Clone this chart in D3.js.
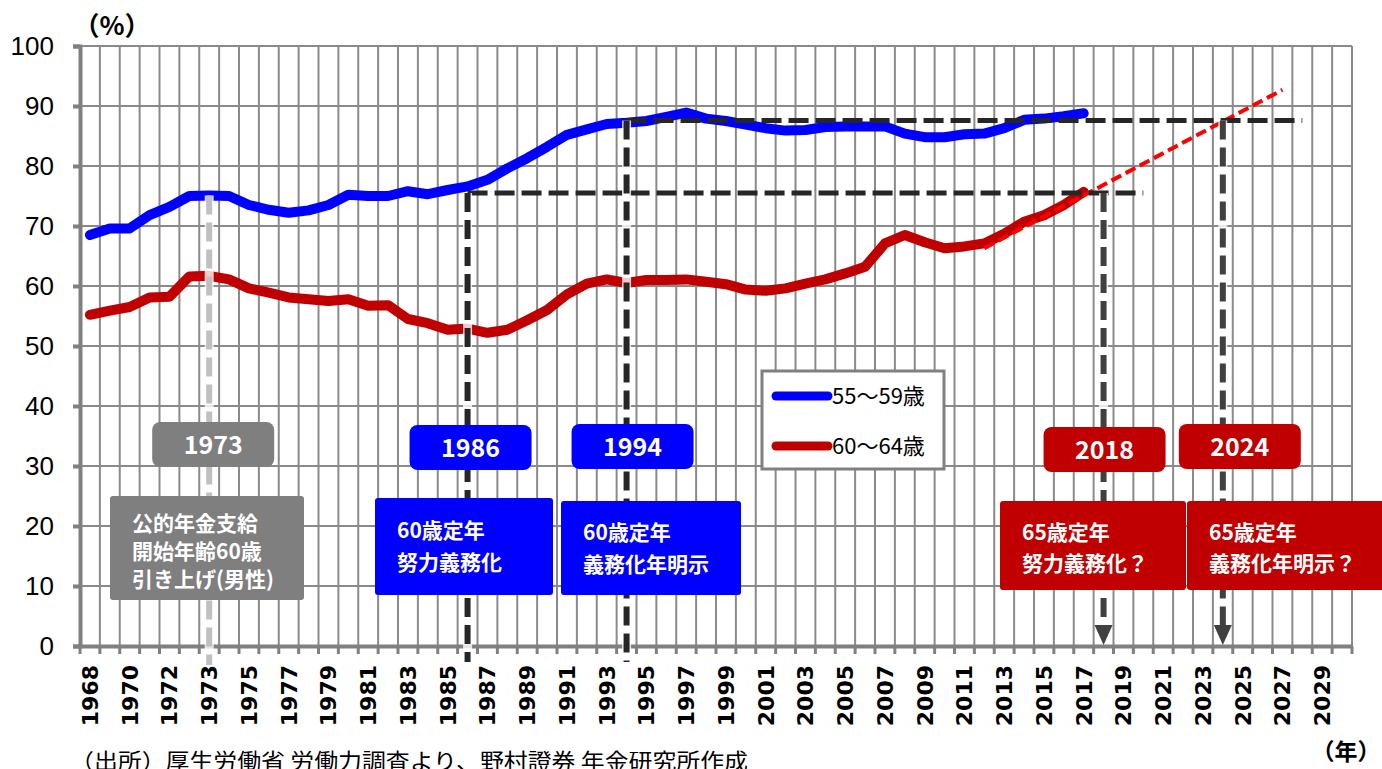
<!DOCTYPE html>
<html>
<head>
<meta charset="utf-8">
<script src="https://cdn.jsdelivr.net/npm/d3@7"></script>
<style>
  body { margin: 0; background: #fff; }
  svg { display: block; }
</style>
</head>
<body>
<div id="chart"></div>
<script>
// categories (the survey lists 1973 twice: before/after Okinawa)
const categories = ['1968', '1969', '1970', '1971', '1972', '1973', '1973b']
  .concat(d3.range(1974, 2031).map(String));
const yTicks = [0, 10, 20, 30, 40, 50, 60, 70, 80, 90, 100];

// labour participation rate, men (%)
const rate55 = [68.5, 69.6, 69.6, 71.8, 73.2, 75.0, 75.1, 75.0, 73.5, 72.7,
  72.2, 72.6, 73.5, 75.2, 75.0, 75.0, 75.8, 75.3, 76.0, 76.6,
  77.7, 79.6, 81.3, 83.2, 85.2, 86.1, 87.0, 87.2, 87.5, 88.2,
  88.9, 87.9, 87.5, 86.9, 86.3, 85.9, 86.0, 86.5, 86.6, 86.6,
  86.6, 85.4, 84.8, 84.8, 85.3, 85.4, 86.3, 87.7, 87.9, 88.3, 88.8];
const rate60 = [55.2, 55.9, 56.5, 58.1, 58.2, 61.6, 61.7, 61.1, 59.6, 58.9,
  58.1, 57.8, 57.5, 57.8, 56.7, 56.8, 54.5, 53.8, 52.7, 52.9,
  52.2, 52.7, 54.3, 56.0, 58.6, 60.4, 61.1, 60.5, 61.0, 61.0,
  61.1, 60.7, 60.3, 59.4, 59.2, 59.6, 60.4, 61.1, 62.1, 63.2,
  67.1, 68.5, 67.3, 66.3, 66.6, 67.1, 68.7, 70.7, 71.8, 73.5, 75.7];
const seriesNames = ['55～59歳', '60～64歳'];

// red dashed extrapolation
const trendYears = ['2012', '2027'];
const trendValues = [66.3, 92.7];

// events
const eventYears = ['1973b', '1986', '1994', '2018', '2024'];
const eventLabels = ['1973', '1986', '1994', '2018', '2024'];
const eventNotes = [
  ['公的年金支給', '開始年齢60歳', '引き上げ(男性)'],
  ['60歳定年', '努力義務化'],
  ['60歳定年', '義務化年明示'],
  ['65歳定年', '努力義務化？'],
  ['65歳定年', '義務化年明示？']
];
const guideLevels = [75.5, 87.6]; // 2018 level, 2024 level

/** LAYOUT */
const width = 1382, height = 769;
const margin = {top: 46, right: 30, bottom: 123, left: 80};
const colors = {c55: '#0000ff', c60: '#c00000', grid: '#8a8a8a', axis: '#808080'};

const svg = d3.select('#chart').append('svg')
  .attr('width', width).attr('height', height)
  .style('font-family', 'Liberation Sans, Arial, sans-serif');

const x = d3.scaleBand()
  .domain(categories)
  .range([margin.left, 1352])
  .padding(0);
const y = d3.scaleLinear()
  .domain([0, 100])
  .range([height - margin.bottom, margin.top]);
const bw = x.bandwidth();
const cx = d => x(d) + bw / 2;

// gridlines
const boundaries = categories.map(d => x(d)).concat([x.range()[1]]);
svg.append('g').selectAll('line')
  .data(boundaries.slice(1))
  .join('line')
  .attr('x1', d => d).attr('x2', d => d)
  .attr('y1', y(100)).attr('y2', y(0))
  .attr('stroke', colors.grid).attr('stroke-width', 2);
svg.append('g').selectAll('line')
  .data(yTicks.slice(1))
  .join('line')
  .attr('x1', x.range()[0]).attr('x2', x.range()[1])
  .attr('y1', d => y(d)).attr('y2', d => y(d))
  .attr('stroke', colors.grid).attr('stroke-width', 2);

// y axis
const yAxis = svg.append('g')
  .attr('transform', `translate(${margin.left},0)`)
  .call(d3.axisLeft(y).tickValues(yTicks).tickSize(7).tickPadding(19));
yAxis.select('.domain').attr('stroke', colors.axis).attr('stroke-width', 4);
yAxis.selectAll('.tick line').attr('stroke', colors.axis).attr('stroke-width', 4);
yAxis.selectAll('text')
  .attr('fill', '#000')
  .style('font-size', '26px')
  .style('font-family', 'Liberation Sans, Arial, sans-serif');

// x axis
const xAxis = svg.append('g')
  .attr('transform', `translate(0,${y(0)})`)
  .call(d3.axisBottom(x)
    .tickValues(categories.filter((d, i) => i % 2 === 0))
    .tickFormat(d => d.slice(0, 4))
    .tickSize(0));
xAxis.select('.domain').attr('stroke', colors.axis).attr('stroke-width', 4);
xAxis.selectAll('text')
  .attr('transform', 'rotate(-90)')
  .attr('x', -19).attr('y', 0).attr('dy', '0.36em')
  .style('text-anchor', 'end')
  .style('font-family', 'DejaVu Sans, sans-serif')
  .style('font-weight', 'bold')
  .style('font-size', '22px')
  .attr('fill', '#000');
svg.append('g').selectAll('line')
  .data(boundaries)
  .join('line')
  .attr('x1', d => d).attr('x2', d => d)
  .attr('y1', y(0)).attr('y2', y(0) + 8)
  .attr('stroke', colors.axis).attr('stroke-width', 3);

// series lines
const line = d3.line()
  .x((d, i) => cx(categories[i]))
  .y(d => y(d));
[[rate55, colors.c55], [rate60, colors.c60]].forEach(([vals, c]) => {
  svg.append('path')
    .datum(vals)
    .attr('d', line)
    .attr('fill', 'none')
    .attr('stroke', c)
    .attr('stroke-width', 10)
    .attr('stroke-linejoin', 'round')
    .attr('stroke-linecap', 'round');
});

// trend
svg.append('line')
  .attr('x1', cx(trendYears[0])).attr('y1', y(trendValues[0]))
  .attr('x2', cx(trendYears[1])).attr('y2', y(trendValues[1]))
  .attr('stroke', '#ff0000').attr('stroke-width', 4)
  .attr('stroke-dasharray', '11,5');

// horizontal guides
const hGuides = [
  {from: '1986', to: '2020', v: guideLevels[0]},
  {from: '1994', to: '2028', v: guideLevels[1]}
];
svg.append('g').selectAll('line')
  .data(hGuides)
  .join('line')
  .attr('x1', d => cx(d.from)).attr('x2', d => cx(d.to))
  .attr('y1', d => y(d.v)).attr('y2', d => y(d.v))
  .attr('stroke', '#262626').attr('stroke-width', 5)
  .attr('stroke-dasharray', '20,7');

// vertical guides
const vGuides = [
  {yr: eventYears[0], top: y(rate55[6]), bottom: y(0) + 19, c: '#c0c0c0', arrow: false},
  {yr: eventYears[1], top: y(guideLevels[0]), bottom: y(0) + 16, c: '#262626', arrow: false},
  {yr: eventYears[2], top: y(guideLevels[1]), bottom: y(0) + 16, c: '#262626', arrow: false},
  {yr: eventYears[3], top: y(guideLevels[0]), bottom: y(0) - 18, c: '#404040', arrow: true},
  {yr: eventYears[4], top: y(guideLevels[1]), bottom: y(0) - 18, c: '#404040', arrow: true}
];
const vg = svg.append('g');
vg.selectAll('line.halo')
  .data(vGuides)
  .join('line')
  .attr('class', 'halo')
  .attr('x1', d => cx(d.yr)).attr('x2', d => cx(d.yr))
  .attr('y1', d => d.top).attr('y2', d => d.bottom)
  .attr('stroke', '#fff').attr('stroke-width', 9).attr('opacity', 0.8);
vg.selectAll('line.guide')
  .data(vGuides)
  .join('line')
  .attr('class', 'guide')
  .attr('x1', d => cx(d.yr)).attr('x2', d => cx(d.yr))
  .attr('y1', d => d.top).attr('y2', d => d.bottom)
  .attr('stroke', d => d.c).attr('stroke-width', 6)
  .attr('stroke-dasharray', '19,8');
vg.selectAll('path.arrow')
  .data(vGuides.filter(d => d.arrow))
  .join('path')
  .attr('class', 'arrow')
  .attr('d', d => {
    const px = cx(d.yr), tip = y(0) - 1;
    return `M${px - 9},${tip - 20}L${px + 9},${tip - 20}L${px},${tip}Z`;
  })
  .attr('fill', d => d.c);

// event boxes (layout only)
const yearBoxes = [
  {dx: -57, top: 422, fill: '#7f7f7f'},
  {dx: -58, top: 425, fill: colors.c55},
  {dx: -55, top: 424, fill: colors.c55},
  {dx: -60, top: 427, fill: colors.c60},
  {dx: -44, top: 424, fill: colors.c60}
];
const noteBoxes = [
  {x0: 110, top: 496, w: 194, h: 104, lh: 28, first: 523},
  {x0: 375, top: 498, w: 178, h: 97, lh: 32, first: 530},
  {x0: 561, top: 501, w: 180, h: 94, lh: 32, first: 532},
  {x0: 1000, top: 501, w: 186, h: 89, lh: 31, first: 532},
  {x0: 1187, top: 501, w: 200, h: 89, lh: 31, first: 532}
];
const jp = '"Noto Sans CJK JP", sans-serif';

eventYears.forEach((yr, i) => {
  const b = yearBoxes[i];
  const left = cx(yr) + b.dx;
  svg.append('rect')
    .attr('x', left).attr('y', b.top)
    .attr('width', 122).attr('height', 45)
    .attr('rx', 8)
    .attr('fill', b.fill);
  svg.append('text')
    .attr('x', left + 61).attr('y', b.top + 23)
    .attr('dy', '0.35em')
    .attr('text-anchor', 'middle')
    .attr('fill', '#fff')
    .style('font-family', jp)
    .style('font-weight', 'bold')
    .style('font-size', '25px')
    .text(eventLabels[i]);

  const n = noteBoxes[i];
  svg.append('rect')
    .attr('x', n.x0).attr('y', n.top)
    .attr('width', n.w).attr('height', n.h)
    .attr('rx', 3)
    .attr('fill', b.fill);
  svg.append('g').selectAll('text')
    .data(eventNotes[i])
    .join('text')
    .attr('x', n.x0 + 22)
    .attr('y', (d, j) => n.first + j * n.lh)
    .attr('dy', '0.36em')
    .attr('fill', '#fff')
    .style('font-family', jp)
    .style('font-weight', 'bold')
    .style('font-size', '21px')
    .text(d => d);
});

// legend
const legend = svg.append('g').attr('transform', 'translate(762,371)');
legend.append('rect')
  .attr('width', 182).attr('height', 98)
  .attr('fill', '#fff')
  .attr('stroke', colors.axis).attr('stroke-width', 3);
const legendItems = legend.selectAll('g.item')
  .data(seriesNames)
  .join('g')
  .attr('class', 'item')
  .attr('transform', (d, i) => `translate(0,${25 + i * 50})`);
legendItems.append('line')
  .attr('x1', 14).attr('x2', 66)
  .attr('stroke', (d, i) => i === 0 ? colors.c55 : colors.c60)
  .attr('stroke-width', 9)
  .attr('stroke-linecap', 'round');
legendItems.append('text')
  .attr('x', 70).attr('dy', '0.36em')
  .style('font-family', jp)
  .style('font-size', '22px')
  .attr('fill', '#000')
  .text(d => d);

// unit labels and source
svg.append('text')
  .attr('x', 112).attr('y', 35)
  .attr('text-anchor', 'middle')
  .style('font-family', jp).style('font-weight', 'bold').style('font-size', '26px')
  .text('（%）');
svg.append('text')
  .attr('x', 1346).attr('y', 760)
  .attr('text-anchor', 'middle')
  .style('font-family', jp).style('font-weight', 'bold').style('font-size', '23px')
  .text('（年）');
svg.append('text')
  .attr('x', 70).attr('y', 769)
  .attr('textLength', 678)
  .attr('lengthAdjust', 'spacingAndGlyphs')
  .style('font-family', jp).style('font-size', '22px')
  .text('（出所）厚生労働省 労働力調査より、野村證券 年金研究所作成');
</script>
</body>
</html>
